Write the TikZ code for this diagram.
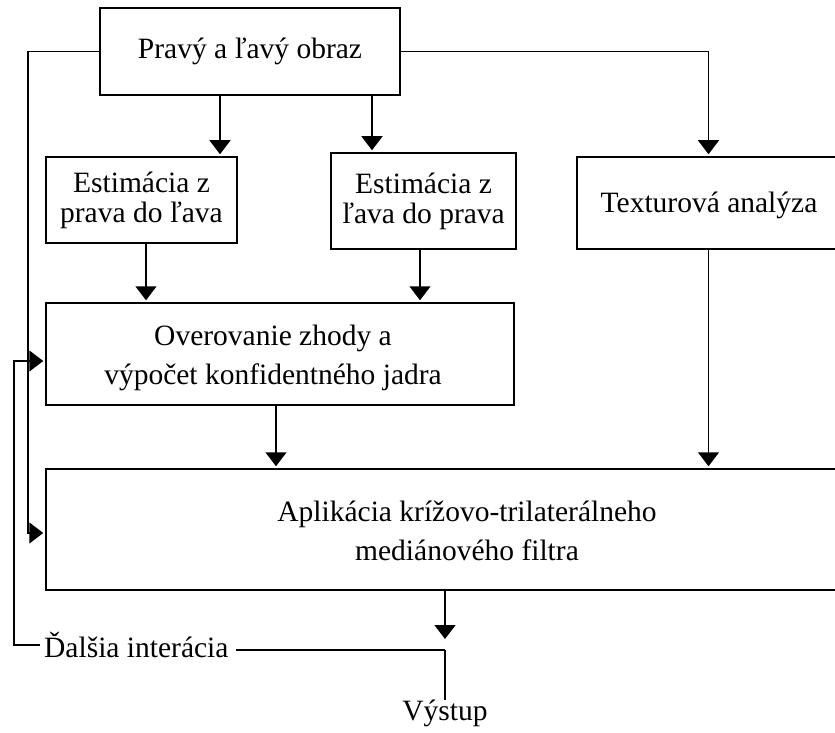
\documentclass[tikz,border=0pt]{standalone}
\usepackage{fontspec}
\setmainfont{Liberation Serif}
\usetikzlibrary{arrows.meta}
\begin{document}
\begin{tikzpicture}[x=1pt,y=-1pt,
  box/.style={draw, line width=1.5pt, inner sep=0pt, anchor=center},
  txt/.style={align=center, font=\fontsize{29.5}{30}\selectfont, inner sep=0pt},
  wide/.style={align=center, font=\fontsize{29.5}{38.5}\selectfont, inner sep=0pt},
  conn/.style={line width=1.5pt},
  arr/.style={conn, -{Triangle[width=21pt,length=14pt]}, shorten >=2pt}]
\useasboundingbox (0,0) rectangle (835,733);
\clip (0,0) rectangle (835,733);
% boxes
\node[box, txt, minimum width=300pt, minimum height=87pt] (src) at (250,51.5) {Pravý a ľavý obraz};
\node[box, txt, minimum width=191pt, minimum height=86pt] (e1) at (141.5,200) {Estimácia z\\prava do ľava};
\node[box, txt, minimum width=185pt, minimum height=96pt] (e2) at (423.5,201) {Estimácia z\\ľava do prava};
\node[box, minimum width=263pt, minimum height=92pt] (tex) at (708.5,203) {};
\node[txt] (textex) at (709,205) {Texturová analýza};
\node[box, minimum width=468pt, minimum height=102pt] (ver) at (280,354) {};
\node[wide] (tver) at (273,358) {Overovanie zhody a\\výpočet konfidentného jadra};
\node[box, minimum width=799pt, minimum height=121pt] (apl) at (445.5,529.5) {};
\node[wide] (tapl) at (467,531) {Aplikácia krížovo-trilaterálneho\\mediánového filtra};
\node[txt, anchor=west] (dal) at (44,645) {Ďalšia interácia};
\node[txt, anchor=north] (vy) at (445,700) {Výstup};
% helper coordinates
\coordinate (c1) at (220,0);
\coordinate (c2) at (372,0);
\coordinate (c3) at (146,0);
\coordinate (c4) at (420,0);
\coordinate (c5) at (276,0);
\coordinate (j) at (445,650);
\coordinate (k1) at (28,533);
\coordinate (k2) at (14,361);
% connectors
\draw[arr] (src.south -| c1) -- (e1.north -| c1);
\draw[arr] (src.south -| c2) -- (e2.north -| c2);
\draw[arr] (src.east) -| (tex.north);
\draw[arr] (e1.south -| c3) -- (ver.north -| c3);
\draw[arr] (e2.south -| c4) -- (ver.north -| c4);
\draw[arr] (ver.south -| c5) -- (apl.north -| c5);
\draw[arr] (tex.south) -- (apl.north -| tex.south);
\draw[arr] (src.west) -| (k1) -- (apl.west |- k1);
\draw[arr, shorten >=11pt] (apl.south -| j) -- (j);
\draw[conn] (j) -- (vy.north);
\draw[conn] ([xshift=7pt]dal.east |- j) -- (j);
\draw[arr] ([xshift=-4pt]dal.west) -| (k2) -- (ver.west |- k2);
\end{tikzpicture}
\end{document}
